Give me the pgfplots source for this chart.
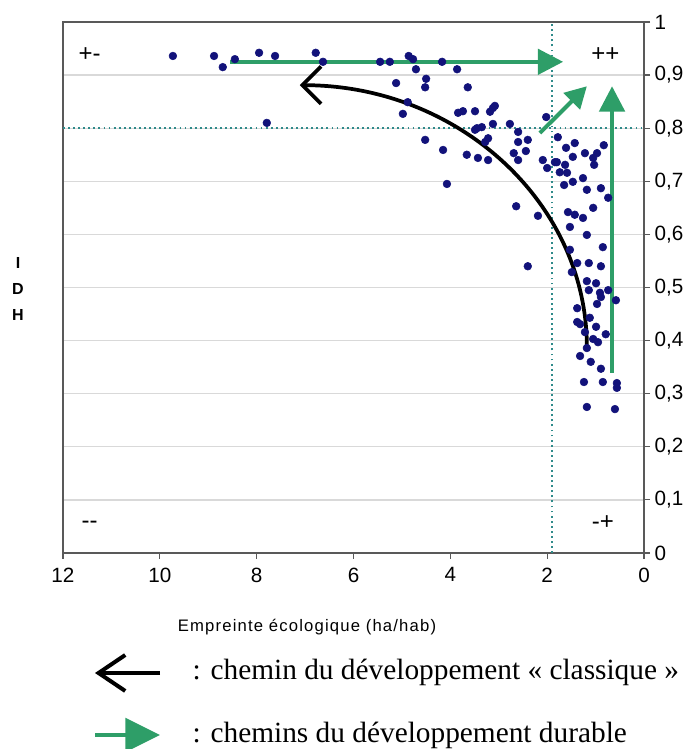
\documentclass[border=0pt]{standalone}
\usepackage{pgfplots}
\pgfplotsset{compat=1.18}
\usepackage{fontspec}
\setmainfont{Liberation Serif}
\newfontfamily\arial{Liberation Sans}
\newfontfamily\arialsp[LetterSpace=7]{Liberation Sans}
\usetikzlibrary{arrows.meta}
\definecolor{navy}{HTML}{12127A}
\definecolor{grn}{HTML}{2E9E68}
\definecolor{teal2}{HTML}{2F8A8A}
\pgfplotstableread{
x y
9.73 0.936
8.88 0.936
8.70 0.915
8.45 0.930
7.95 0.942
7.62 0.936
7.79 0.810
6.78 0.942
6.63 0.925
5.45 0.925
5.25 0.925
4.86 0.936
4.77 0.930
4.71 0.911
4.17 0.925
3.86 0.911
5.12 0.885
4.50 0.893
4.52 0.877
3.64 0.877
4.88 0.849
4.98 0.827
3.84 0.829
3.74 0.832
3.49 0.832
3.18 0.831
3.08 0.842
3.12 0.838
3.12 0.808
3.45 0.800
3.35 0.802
3.49 0.797
3.22 0.781
3.28 0.774
2.77 0.808
2.60 0.793
2.60 0.774
2.40 0.778
2.02 0.821
4.52 0.778
4.15 0.759
3.66 0.750
3.43 0.744
3.22 0.740
2.69 0.753
2.60 0.740
2.44 0.757
4.07 0.695
2.64 0.653
2.19 0.635
2.40 0.540
2.09 0.740
2.00 0.725
1.84 0.736
1.78 0.783
1.61 0.763
1.43 0.772
0.83 0.768
1.22 0.753
1.47 0.746
1.05 0.744
0.97 0.753
1.03 0.731
1.80 0.736
1.63 0.731
1.74 0.717
1.59 0.716
1.65 0.693
1.47 0.699
1.26 0.706
1.18 0.684
0.89 0.687
0.74 0.669
1.05 0.650
1.57 0.642
1.43 0.637
1.26 0.631
1.53 0.614
1.18 0.599
0.85 0.576
1.53 0.571
1.38 0.546
1.14 0.546
0.89 0.540
1.49 0.529
1.18 0.512
0.99 0.508
1.14 0.495
0.91 0.490
0.89 0.482
0.74 0.495
0.58 0.476
0.97 0.469
1.38 0.461
1.38 0.435
1.32 0.431
1.12 0.443
0.99 0.426
1.22 0.416
1.05 0.403
0.95 0.397
0.79 0.412
1.18 0.386
1.32 0.371
1.10 0.360
0.89 0.347
1.24 0.322
0.85 0.322
0.56 0.320
0.56 0.311
1.18 0.275
0.60 0.271
}\idhdata
\begin{document}
\begin{tikzpicture}[x=0.75pt,y=0.75pt]
\useasboundingbox (0,0) rectangle (691,749);
\coordinate (O) at (63,196);
\begin{axis}[
  at={(O)}, anchor=south west,
  scale only axis, width=435.75pt, height=398.25pt,
  xmin=0, xmax=12, ymin=0, ymax=1, x dir=reverse,
  xtick={0,2,4,6,8,10,12},
  ytick={0,0.1,0.2,0.3,0.4,0.5,0.6,0.7,0.8,0.9,1},
  ytick pos=right, yticklabel pos=right, xtick pos=left,
  tick align=outside, major tick length=4.5pt,
  tick style={gray!70!black, line width=0.9pt},
  ymajorgrids, grid style={gray!30, line width=1pt},
  axis line style={gray!70!black, line width=1.1pt},
  ticklabel style={font=\arial\fontsize{15.5}{16}\selectfont},
  /pgf/number format/assume math mode=true,
  yticklabel style={/pgf/number format/.cd, fixed, use comma, precision=1},
  xticklabel style={yshift=-3pt},
  clip=false,
]
\draw[teal2, line width=1.9pt, dash pattern=on 1.4pt off 2.4pt] (axis cs:1.9,0) -- (axis cs:1.9,1);
\draw[teal2, line width=1.9pt, dash pattern=on 1.4pt off 2.4pt] (axis cs:12,0.8) -- (axis cs:0,0.8);
\addplot[only marks, mark=*, mark size=2.9pt, navy] table {\idhdata};
\draw[black, line width=2.8pt, -{Straight Barb[length=14pt,width=28pt]}]
  (axis cs:1.18,0.388) .. controls (axis cs:1.18,0.660) and (axis cs:3.84,0.881) .. (axis cs:7.11,0.881);
\draw[grn, line width=3pt, -{Triangle[length=19pt,width=19pt]}] (axis cs:8.55,0.925) -- (axis cs:1.67,0.925);
\draw[grn, line width=3pt, -{Triangle[length=16pt,width=17pt]}] (axis cs:2.15,0.791) -- (axis cs:1.18,0.879);
\draw[grn, line width=3pt, -{Triangle[length=19pt,width=19pt]}] (axis cs:0.66,0.339) -- (axis cs:0.66,0.879);
\node[font=\arial\fontsize{18}{18}\selectfont] at (axis cs:11.45,0.938) {+-};
\node[font=\arial\fontsize{18}{18}\selectfont] at (axis cs:0.8,0.938) {++};
\node[font=\arial\fontsize{18}{18}\selectfont] at (axis cs:11.45,0.053) {{-}{-}};
\node[font=\arial\fontsize{18}{18}\selectfont] at (axis cs:0.85,0.058) {-+};
\end{axis}
\node[font=\arial\bfseries\fontsize{12}{12}\selectfont] at (18,486) {I};
\node[font=\arial\bfseries\fontsize{12}{12}\selectfont] at (18,460) {D};
\node[font=\arial\bfseries\fontsize{12}{12}\selectfont] at (18,434) {H};
\node[font=\arialsp\fontsize{12.5}{13}\selectfont] at (307,122) {Empreinte écologique (ha/hab)};
\draw[line width=3pt, -{Straight Barb[length=20pt,width=27pt]}] (160,76) -- (95,76);
\draw[grn, line width=3.5pt, -{Triangle[length=26pt,width=25pt]}] (95,14) -- (160,14);
\node[anchor=base west, font=\fontsize{22}{23}\selectfont] at (188,69) {: chemin du développement « classique »};
\node[anchor=base west, font=\fontsize{22}{23}\selectfont] at (188,7) {: chemins du développement durable};
\end{tikzpicture}
\end{document}
